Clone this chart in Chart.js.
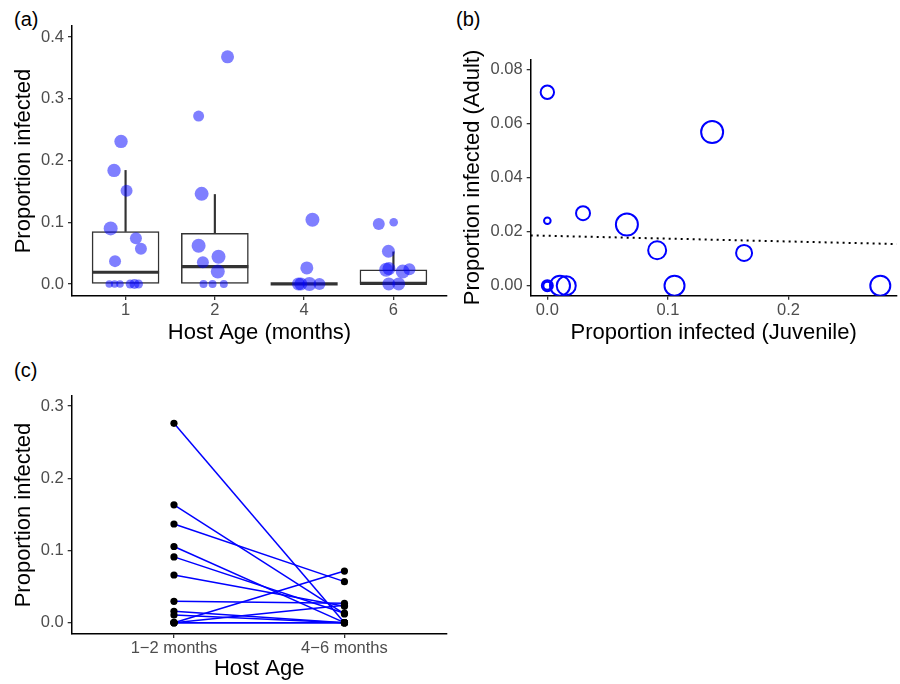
<!DOCTYPE html>
<html>
<head>
<meta charset="utf-8">
<script src="https://cdn.jsdelivr.net/npm/chart.js@4.4.0/dist/chart.umd.min.js"></script>
<style>
  body { margin: 0; background: #fff; width: 900px; height: 684px; position: relative; overflow: hidden;
         font-family: "Liberation Sans", Arial, sans-serif; }
  canvas { position: absolute; }
  .lab { position: absolute; font-size: 20px; line-height: 20px; color: #000; }
</style>
</head>
<body>
<div class="lab" style="left:14px;top:9px">(a)</div>
<div class="lab" style="left:456px;top:9px">(b)</div>
<div class="lab" style="left:14px;top:360px">(c)</div>
<canvas id="chartA" width="450" height="350" style="left:0;top:0"></canvas>
<canvas id="chartB" width="450" height="350" style="left:450px;top:0"></canvas>
<canvas id="chartC" width="450" height="334" style="left:0;top:350px"></canvas>
<script>
// ---- panel (a): proportion infected by host age ----
var ageLabels = ["1", "2", "4", "6"];
var ageTicks = [1, 2, 3, 4];
var boxLow = [0, 0, 0, 0];
var boxHigh = [0.085, 0.082, 0, 0.023];
var boxMedian = [0.019, 0.028, 0, 0.001];
var whiskerHigh = [0.184, 0.145, 0, 0.052];

// jittered position (age index), proportion, point size
var ptX = [0.949, 0.871, 1.011, 0.833, 1.116, 1.172, 0.882, 0.818, 0.877, 0.937, 1.052, 1.100, 1.145,
           2.142, 1.818, 1.852, 1.818, 2.041, 1.866, 2.033, 1.873, 1.974, 2.100,
           3.093, 3.030, 2.936, 2.963, 3.059, 3.171,
           3.836, 4.003, 3.944, 3.919, 3.950, 4.104, 4.179, 3.948, 4.059];
var ptY = [0.231, 0.184, 0.151, 0.090, 0.074, 0.057, 0.037, 0, 0, 0, 0, 0, 0,
           0.368, 0.272, 0.146, 0.062, 0.044, 0.035, 0.020, 0, 0, 0,
           0.104, 0.026, 0, 0, 0, 0,
           0.097, 0.100, 0.053, 0.023, 0.025, 0.020, 0.024, 0, 0];
var ptSize = [6.7, 6.7, 6, 7, 6, 6, 6, 3.8, 3.8, 3.8, 4.5, 5, 4.5,
              6.5, 5.5, 7, 7, 7, 6, 7, 4, 4, 4,
              7, 6.5, 6.5, 6.5, 7, 6,
              6, 4.3, 6.5, 7, 6.5, 7, 6, 6.5, 6.5];
var yTicksA = [0, 0.1, 0.2, 0.3, 0.4];
var yLabelsA = ["0.0", "0.1", "0.2", "0.3", "0.4"];

// ---- panels (b) and (c): one value per site ----
var juvenile = [0, 0, 0, 0, 0.0105, 0.0157, 0.0296, 0.066, 0.0911, 0.1055, 0.1367, 0.1632, 0.2762];
var adult = [0.0715, 0.024, 0, 0, 0, 0, 0.0268, 0.0226, 0.0131, 0, 0.0568, 0.0121, 0];
var siteSize = [6.7, 3.3, 4, 5.5, 10, 9.5, 7, 11, 9, 10, 11, 8, 10];
var trendX = [-0.0138, 0.2898];
var trendY = [0.0186, 0.0154];
var xTicksB = [0, 0.1, 0.2];
var xLabelsB = ["0.0", "0.1", "0.2"];
var yTicksB = [0, 0.02, 0.04, 0.06, 0.08];
var yLabelsB = ["0.00", "0.02", "0.04", "0.06", "0.08"];

var groupTicks = [1, 2];
var groupLabels = ["1\u22122 months", "4\u22126 months"];
var yTicksC = [0, 0.1, 0.2, 0.3];
var yLabelsC = ["0.0", "0.1", "0.2", "0.3"];

var fontFamily = "'Liberation Sans', Arial, Helvetica, sans-serif";
var blue = "#0000FF";

function axis(min, max, tickVals, tickLabels, title, titlePad, size, horizontal) {
  return {
    type: "linear",
    min: min,
    max: max,
    offset: false,
    afterBuildTicks: function (s) { s.ticks = tickVals.map(function (v) { return { value: v }; }); },
    afterFit: function (s) { if (horizontal) s.height = size; else s.width = size; },
    ticks: {
      callback: function (v, i) { return tickLabels[i]; },
      autoSkip: false, maxRotation: 0, color: "#4d4d4d",
      font: { family: fontFamily, size: 16.5 },
      padding: horizontal ? 1 : 4
    },
    grid: { offset: false, drawOnChartArea: false, drawTicks: true, tickLength: 4, color: "#333", lineWidth: 1.3 },
    border: { display: true, color: "#000", width: 1.5 },
    title: { display: true, text: title, color: "#000", font: { family: fontFamily, size: 22 }, padding: titlePad }
  };
}

function baseOptions(padding, xAxis, yAxis) {
  return {
    responsive: false,
    animation: false,
    events: [],
    layout: { padding: padding, autoPadding: false },
    plugins: { legend: { display: false }, tooltip: { enabled: false } },
    scales: { x: xAxis, y: yAxis }
  };
}

// ---- chart (a) ----
var boxData = [], whiskerData = [], medianData = [], pointData = [];
for (var i = 0; i < ageTicks.length; i++) {
  boxData.push({ x: ageTicks[i], y: [boxLow[i], boxHigh[i]] });
  whiskerData.push({ x: ageTicks[i], y: [boxHigh[i], whiskerHigh[i]] });
  medianData.push({ x: ageTicks[i], y: boxMedian[i] });
}
for (var j = 0; j < ptX.length; j++) {
  pointData.push({ x: ptX[j], y: ptY[j], r: ptSize[j] });
}

new Chart(document.getElementById("chartA"), {
  type: "bubble",
  data: {
    datasets: [
      { type: "bubble", data: pointData, backgroundColor: "rgba(0,0,255,0.5)", borderWidth: 0, order: 0 },
      { type: "scatter", data: medianData, pointStyle: "line", pointRadius: 33.5, borderWidth: 3.2,
        borderColor: "#333", order: 1 },
      { type: "bar", data: whiskerData, barThickness: 1.5, backgroundColor: "#333", borderWidth: 0,
        grouped: false, order: 2 },
      { type: "bar", data: boxData, barThickness: 67, backgroundColor: "#fff", borderColor: "#333",
        borderWidth: 1.5, borderSkipped: false, grouped: false, order: 3 }
    ]
  },
  options: baseOptions({ top: 26, right: 3, left: 0, bottom: 0 },
    axis(0.4, 4.6, ageTicks, ageLabels, "Host Age (months)", { top: 0, bottom: 3.8 }, 54, true),
    axis(-0.0195, 0.418, yTicksA, yLabelsA, "Proportion infected", { top: 10.8, bottom: 0 }, 72, false))
});

// ---- chart (b) ----
var siteData = [];
for (var k = 0; k < juvenile.length; k++) {
  siteData.push({ x: juvenile[k], y: adult[k], r: siteSize[k] });
}
new Chart(document.getElementById("chartB"), {
  type: "bubble",
  data: {
    datasets: [
      { type: "bubble", data: siteData, backgroundColor: "rgba(0,0,0,0)", borderColor: blue, borderWidth: 2, order: 0 },
      { type: "line", data: [{ x: trendX[0], y: trendY[0] }, { x: trendX[1], y: trendY[1] }],
        borderColor: "#000", borderWidth: 2, borderDash: [2, 4], pointRadius: 0, order: 1 }
    ]
  },
  options: baseOptions({ top: 59.3, right: 3.3, left: 0, bottom: 0 },
    axis(-0.0138, 0.2898, xTicksB, xLabelsB, "Proportion infected (Juvenile)", { top: 0, bottom: 3.8 }, 54.3, true),
    axis(-0.0037, 0.0837, yTicksB, yLabelsB, "Proportion infected (Adult)", { top: 10.1, bottom: 0 }, 80.7, false))
});

// ---- chart (c) ----
var pairSets = [];
var pairPoints = [];
for (var m = 0; m < juvenile.length; m++) {
  pairSets.push({ type: "line", data: [{ x: groupTicks[0], y: juvenile[m] }, { x: groupTicks[1], y: adult[m] }],
    borderColor: blue, borderWidth: 1.5, pointRadius: 0, order: 1 });
  pairPoints.push({ x: groupTicks[0], y: juvenile[m] });
  pairPoints.push({ x: groupTicks[1], y: adult[m] });
}
pairSets.unshift({ type: "scatter", data: pairPoints, backgroundColor: "#000", borderWidth: 0,
  pointRadius: 3.6, order: 0 });

new Chart(document.getElementById("chartC"), {
  type: "scatter",
  data: { datasets: pairSets },
  options: baseOptions({ top: 46, right: 3.3, left: 0, bottom: 0 },
    axis(0.4, 2.6, groupTicks, groupLabels, "Host Age", { top: 0, bottom: 1.8 }, 50, true),
    axis(-0.0157, 0.314, yTicksC, yLabelsC, "Proportion infected", { top: 10.8, bottom: 0 }, 71.7, false))
});
</script>
</body>
</html>
